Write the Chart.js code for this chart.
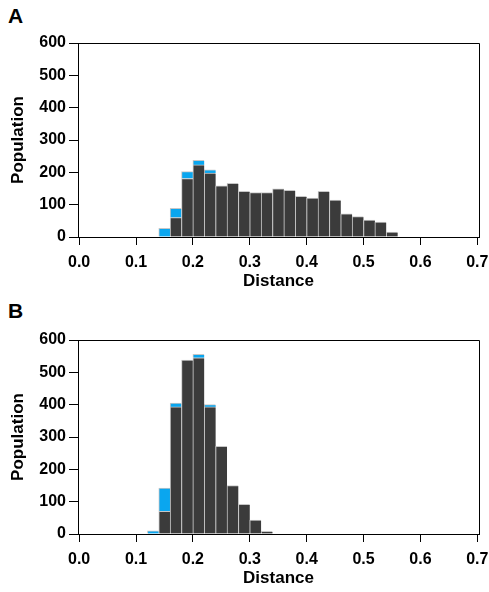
<!DOCTYPE html>
<html>
<head>
<meta charset="utf-8">
<script src="https://cdn.jsdelivr.net/npm/chart.js@4.4.1/dist/chart.umd.min.js"></script>
<style>
  html, body { margin: 0; padding: 0; background: #fff; overflow: hidden; }
  body { width: 489px; height: 592px; position: relative; }
  .panel { position: absolute; left: 0; width: 489px; height: 297px; }
  .letter { position: absolute; font: bold 21px 'Liberation Sans', Arial, sans-serif; line-height: 21px; color: #000; }
</style>
</head>
<body>
<div class="letter" style="left:8px;top:5px">A</div>
<div class="panel" style="top:0"><canvas id="chartA"></canvas></div>
<div class="letter" style="left:8px;top:300px">B</div>
<div class="panel" style="top:297px"><canvas id="chartB"></canvas></div>
<script>
// bin centres (bins are 0.02 wide)
const binsA = [0.15, 0.17, 0.19, 0.21, 0.23, 0.25, 0.27, 0.29, 0.31, 0.33, 0.35,
               0.37, 0.39, 0.41, 0.43, 0.45, 0.47, 0.49, 0.51, 0.53, 0.55];
const darkA = [0, 60, 181, 223, 198, 158, 166, 141, 137, 137, 149,
               144, 126, 120, 141, 114, 72, 63, 52, 46, 15];
const blueA = [27, 29, 21, 14, 10, 0, 0, 0, 0, 0, 0,
               0, 0, 0, 0, 0, 0, 0, 0, 0, 0];

const binsB = [0.13, 0.15, 0.17, 0.19, 0.21, 0.23, 0.25, 0.27, 0.29, 0.31, 0.33];
const darkB = [0, 70, 393, 538, 545, 393, 271, 150, 92, 43, 8];
const blueB = [10, 72, 12, 0, 11, 7, 0, 0, 0, 0, 0];

const xTicks = [0, 0.1, 0.2, 0.3, 0.4, 0.5, 0.6, 0.7];
const yTicks = [0, 100, 200, 300, 400, 500, 600];

Chart.defaults.font.family = "'Liberation Sans', Arial, sans-serif";
Chart.defaults.font.weight = 'bold';
Chart.defaults.color = '#000';

// top and right edges of the box
const frame = {
    id: 'frame',
    afterDraw(chart) {
        const { ctx, chartArea: a } = chart;
        ctx.save();
        ctx.strokeStyle = '#000';
        ctx.lineWidth = 1;
        ctx.beginPath();
        ctx.moveTo(a.left, a.top + 0.5);
        ctx.lineTo(a.right + 0.5, a.top + 0.5);
        ctx.lineTo(a.right + 0.5, a.bottom);
        ctx.stroke();
        ctx.restore();
    }
};

function makeChart(id, bins, dark, blue) {
    const toPts = vals => bins.map((x, i) => ({ x: x, y: vals[i] }));
    const barStyle = {
        borderColor: '#c6c6c6',
        borderWidth: { top: 1, left: 1, right: 0 },
        barPercentage: 1,
        categoryPercentage: 1
    };

    return new Chart(document.getElementById(id), {
        type: 'bar',
        data: {
            datasets: [
                Object.assign({ label: 'dark', data: toPts(dark), backgroundColor: '#3b3b3b' }, barStyle),
                Object.assign({ label: 'blue', data: toPts(blue), backgroundColor: '#0aa6ef' }, barStyle)
            ]
        },
        options: {
            responsive: true,
            maintainAspectRatio: false,
            animation: false,
            layout: { padding: { top: 43, right: 10, left: 0, bottom: 0 } },
            plugins: { legend: { display: false }, tooltip: { enabled: false } },
            scales: {
                x: {
                    type: 'linear',
                    stacked: true,
                    offset: false,
                    min: -0.002,
                    max: 0.703,
                    afterBuildTicks: s => { s.ticks = xTicks.map(v => ({ value: v })); },
                    afterFit: s => { s.height = 60; s.paddingLeft = 0; s.paddingRight = 0; },
                    grid: { offset: false, drawOnChartArea: false, drawTicks: true, tickLength: 8, color: '#000' },
                    border: { display: true, color: '#000' },
                    ticks: { font: { size: 16 }, padding: 8, maxRotation: 0, callback: v => v.toFixed(1) },
                    title: { display: true, text: 'Distance', font: { size: 17 }, padding: { top: 0, bottom: 5 } }
                },
                y: {
                    stacked: true,
                    min: 0,
                    max: 600,
                    afterBuildTicks: s => { s.ticks = yTicks.map(v => ({ value: v })); },
                    afterFit: s => { s.width = 78; s.paddingTop = 0; s.paddingBottom = 0; },
                    grid: { drawOnChartArea: false, drawTicks: true, tickLength: 9, color: '#000' },
                    border: { display: true, color: '#000' },
                    ticks: { font: { size: 16 }, padding: 3 },
                    title: { display: true, text: 'Population', font: { size: 17 }, padding: { top: 8, bottom: 0 } }
                }
            }
        },
        plugins: [frame]
    });
}

makeChart('chartA', binsA, darkA, blueA);
makeChart('chartB', binsB, darkB, blueB);
</script>
</body>
</html>
